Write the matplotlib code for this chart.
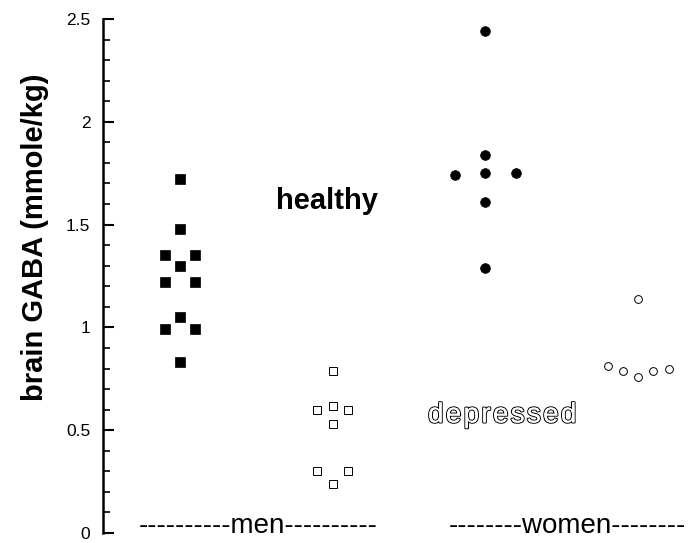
import matplotlib
matplotlib.use("Agg")
import matplotlib.pyplot as plt
import matplotlib.patheffects as pe
import numpy as np

plt.rcParams['font.family'] = ['Liberation Sans', 'DejaVu Sans']

# brain GABA values (mmole/kg)
men_healthy = [1.72, 1.48, 1.35, 1.35, 1.30, 1.22, 1.22, 1.05, 0.99, 0.99, 0.83]
men_depressed = [0.79, 0.60, 0.62, 0.60, 0.53, 0.30, 0.30, 0.24]
women_healthy = [2.44, 1.84, 1.74, 1.75, 1.75, 1.61, 1.29]
women_depressed = [1.14, 0.81, 0.79, 0.76, 0.79, 0.80]

# column of each point inside its group (dot-plot layout)
men_healthy_col = [0, 0, -1, 1, 0, -1, 1, 0, -1, 1, 0]
men_depressed_col = [0, -1, 0, 1, 0, -1, 1, 0]
women_healthy_col = [0, 0, -1, 0, 1, 0, 0]
women_depressed_col = [0, -2, -1, 0, 1, 2]

group_labels = ["----------men----------", "--------women--------"]
yticks = [0, 0.5, 1, 1.5, 2, 2.5]
ytick_labels = ["0", "0.5", "1", "1.5", "2", "2.5"]

fig = plt.figure(figsize=(6.99, 5.43), dpi=100)
ax = fig.add_axes([103 / 699, 10 / 543, 1 - 103 / 699, 514 / 543])

def xs(center, cols, step):
    return center + step * np.array(cols)

ax.plot(xs(1, men_healthy_col, 0.1), men_healthy, 's', ms=6.7,
        mfc='black', mec='black', mew=0.5, ls='none', clip_on=False)
ax.plot(xs(2, men_depressed_col, 0.1), men_depressed, 's', ms=6.0,
        mfc='white', mec='black', mew=0.7, ls='none', clip_on=False)
ax.plot(xs(3, women_healthy_col, 0.2), women_healthy, 'o', ms=7.0,
        mfc='black', mec='black', mew=0.5, ls='none', clip_on=False)
ax.plot(xs(4, women_depressed_col, 0.1), women_depressed, 'o', ms=5.6,
        mfc='white', mec='black', mew=0.7, ls='none', clip_on=False)

ax.text(1.96, 1.615, "healthy", fontsize=21, fontweight='bold',
        ha='center', va='center')
# outlined, widely spaced lettering
ax.text(3.11, 0.572, "\u200a".join("depressed"), fontsize=20, color='white',
        ha='center', va='center',
        path_effects=[pe.withStroke(linewidth=1.6, foreground='black'),
                      pe.Normal()])

ax.text(1.51, 0.035, group_labels[0], fontsize=20, ha='center', va='center', clip_on=False)
ax.text(3.54, 0.035, group_labels[1], fontsize=20, ha='center', va='center', clip_on=False)

ax.set_xlim(1 - 77 / 152.7, 1 + 519 / 152.7)
ax.set_ylim(0, 2.5)
ax.set_xticks([])
ax.set_yticks(yticks)
ax.set_yticklabels(ytick_labels, fontsize=12.5)
ax.set_yticks(np.arange(0, 2.51, 0.1), minor=True)
ax.tick_params(axis='y', which='major', direction='in', length=8, width=1.5, pad=9)
ax.tick_params(axis='y', which='minor', direction='in', length=5, width=1.2)

for s in ['top', 'right', 'bottom']:
    ax.spines[s].set_visible(False)
ax.spines['left'].set_linewidth(1.8)

fig.text(35 / 699, 1 - 237 / 543, "brain GABA (mmole/kg)", rotation=90,
         fontsize=21, fontweight='bold', ha='center', va='center')

fig.savefig("out.png", dpi=100)
